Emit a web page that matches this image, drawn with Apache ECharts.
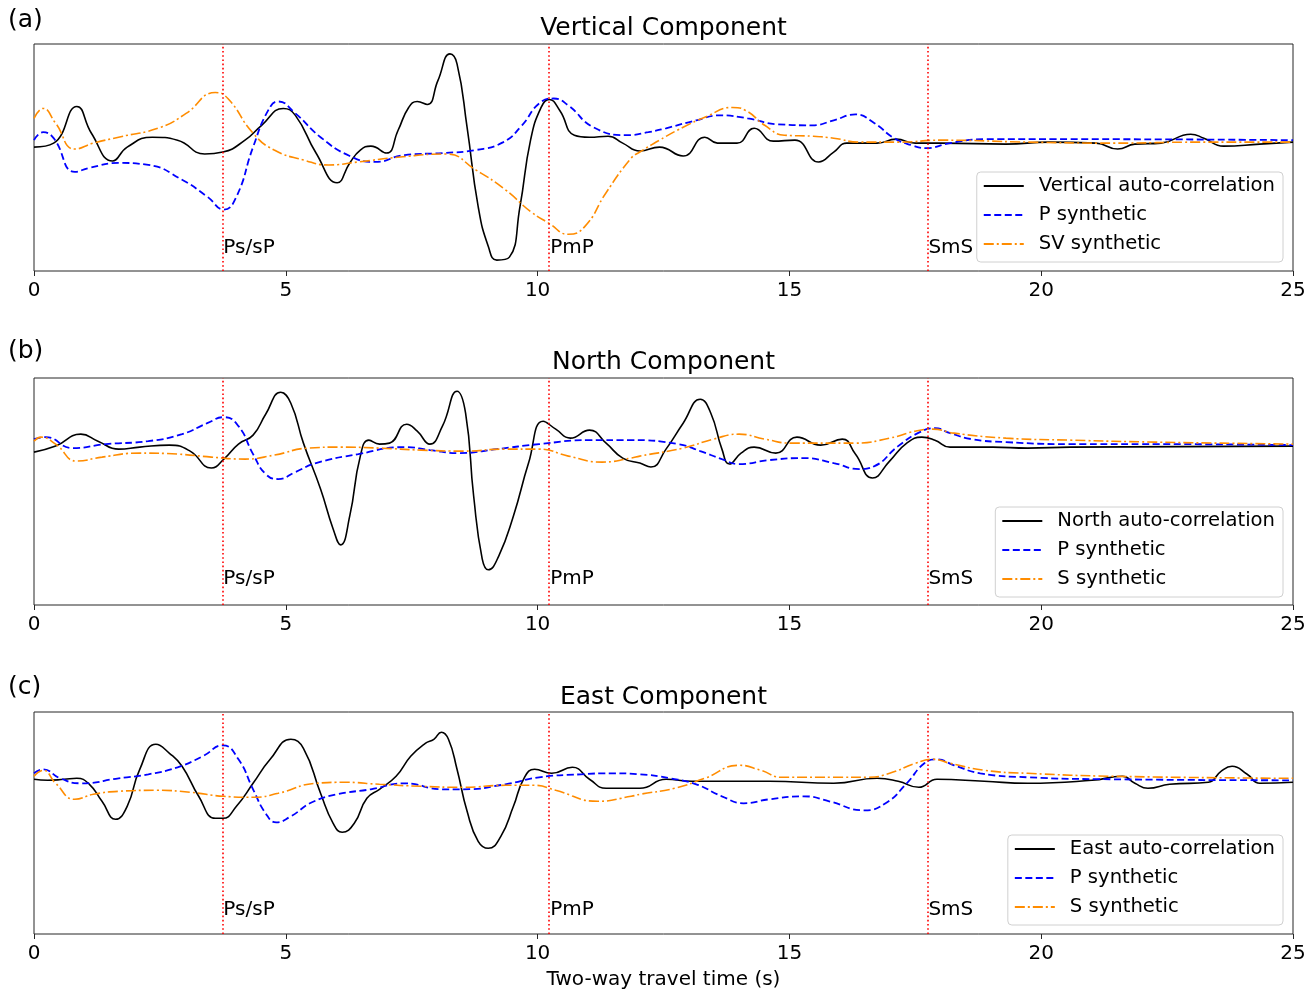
<!DOCTYPE html>
<html>
<head>
<meta charset="utf-8">
<script src="https://cdn.jsdelivr.net/npm/echarts@6/dist/echarts.min.js"></script>
<style>
  html, body { margin: 0; padding: 0; background: #fff; }
  #chart { width: 1316px; height: 995px; }
</style>
</head>
<body>
<div id="chart"></div>
<script>
// Two-way travel time (s) vs normalised amplitude, [t, amplitude] pairs.

// Vertical component
const vertAuto = [[0,-0.05],[0.39,-0.01],[0.85,0.36],[1.14,0.09],[1.56,-0.19],[1.85,-0.05],[2.35,0.05],[2.85,0.02],[3.39,-0.12],[3.75,-0.10],[4.19,0.02],[4.52,0.17],[4.95,0.34],[5.19,0.27],[5.6,-0.11],[6.02,-0.41],[6.27,-0.21],[6.48,-0.08],[6.69,-0.04],[7.0,-0.11],[7.23,0.12],[7.44,0.35],[7.61,0.41],[7.81,0.38],[8.02,0.62],[8.26,0.89],[8.4,0.79],[8.6,0.15],[8.82,-0.65],[9.02,-1.05],[9.19,-1.19],[9.44,-1.16],[9.65,-0.65],[9.86,0.02],[10.07,0.35],[10.23,0.43],[10.44,0.32],[10.73,0.07],[11.03,0.05],[11.4,0.06],[11.69,-0.01],[12.03,-0.09],[12.42,-0.05],[12.89,-0.14],[13.32,0.05],[13.57,-0.01],[13.96,-0.01],[14.3,0.14],[14.68,0.01],[15.11,0.02],[15.58,-0.20],[15.88,-0.10],[16.14,-0.01],[16.74,-0.01],[17.12,0.03],[17.5,-0.01],[18.02,-0.01],[19.3,-0.02],[20.15,0.0],[21.09,-0.01],[21.52,-0.07],[21.86,-0.02],[22.38,-0.01],[22.97,0.08],[23.23,0.04],[23.62,-0.04],[24.34,-0.02],[25,0.0]];
const vertP = [[0,0.02],[0.18,0.10],[0.39,0.04],[0.81,-0.30],[1.1,-0.26],[1.68,-0.21],[2.27,-0.23],[2.94,-0.38],[3.44,-0.55],[3.77,-0.68],[4.02,-0.55],[4.35,-0.05],[4.65,0.32],[4.85,0.41],[5.19,0.29],[5.69,0.05],[6.27,-0.14],[6.77,-0.20],[7.36,-0.13],[8.11,-0.11],[8.77,-0.08],[9.32,0.0],[9.69,0.17],[10.03,0.39],[10.32,0.44],[10.61,0.37],[11.11,0.15],[11.78,0.07],[12.2,0.10],[12.55,0.14],[13.15,0.22],[13.62,0.27],[14.17,0.24],[14.77,0.18],[15.45,0.17],[15.88,0.22],[16.31,0.28],[16.69,0.19],[17.08,0.04],[17.42,-0.03],[17.72,-0.06],[18.19,-0.01],[18.87,0.03],[20.58,0.03],[25,0.02]];
const vertSV = [[0,0.24],[0.18,0.34],[0.43,0.19],[0.81,-0.07],[1.18,-0.01],[1.68,0.05],[2.52,0.15],[3.02,0.29],[3.6,0.50],[3.85,0.44],[4.35,0.09],[4.77,-0.08],[5.35,-0.18],[5.85,-0.23],[6.44,-0.20],[7.27,-0.15],[8.19,-0.12],[8.77,-0.28],[9.36,-0.48],[9.86,-0.70],[10.23,-0.82],[10.61,-0.93],[10.94,-0.85],[11.36,-0.51],[11.86,-0.16],[12.03,-0.10],[12.42,0.02],[12.89,0.15],[13.32,0.25],[13.87,0.35],[14.13,0.32],[14.51,0.17],[14.9,0.07],[15.45,0.06],[15.88,0.04],[16.39,0.0],[17.16,0.0],[18.02,0.02],[19.73,0.0],[21.44,-0.01],[23.15,0.0],[25,0.0]];

// North component
const northAuto = [[0,-0.06],[0.43,0.0],[0.93,0.12],[1.27,0.05],[1.68,-0.03],[2.1,-0.01],[2.69,0.01],[3.1,-0.05],[3.52,-0.22],[3.77,-0.13],[4.06,0.02],[4.35,0.11],[4.6,0.32],[4.9,0.54],[5.1,0.43],[5.35,0.03],[5.69,-0.43],[5.94,-0.83],[6.09,-0.99],[6.27,-0.70],[6.48,-0.10],[6.65,0.06],[6.86,0.02],[7.06,0.03],[7.4,0.22],[7.61,0.15],[7.86,0.02],[8.11,0.20],[8.4,0.55],[8.57,0.33],[8.73,-0.50],[8.9,-1.13],[9.02,-1.24],[9.23,-1.10],[9.52,-0.70],[9.82,-0.17],[10.11,0.25],[10.36,0.17],[10.65,0.08],[11.03,0.16],[11.36,0.03],[11.69,-0.12],[12.03,-0.17],[12.25,-0.21],[12.55,-0.03],[12.89,0.23],[13.23,0.47],[13.44,0.33],[13.66,-0.03],[13.81,-0.18],[14.04,-0.07],[14.3,-0.01],[14.73,-0.07],[15.15,0.09],[15.62,0.01],[16.05,0.07],[16.31,-0.08],[16.65,-0.32],[16.99,-0.15],[17.33,0.03],[17.63,0.09],[17.89,0.06],[18.19,-0.01],[19.04,-0.01],[19.73,-0.02],[20.58,-0.01],[25,0.0]];
const northP = [[0,0.07],[0.23,0.09],[0.77,-0.02],[1.43,0.02],[2.27,0.05],[2.94,0.12],[3.44,0.23],[3.77,0.29],[4.06,0.20],[4.35,-0.08],[4.6,-0.28],[4.85,-0.33],[5.19,-0.26],[5.6,-0.17],[6.44,-0.08],[7.36,-0.01],[7.86,-0.04],[8.44,-0.07],[9.19,-0.03],[10.03,0.02],[11.03,0.06],[11.86,0.06],[12.8,0.02],[13.23,-0.05],[13.66,-0.13],[14.0,-0.18],[14.6,-0.14],[15.28,-0.12],[15.88,-0.17],[16.39,-0.23],[16.69,-0.20],[17.16,0.0],[17.59,0.14],[17.89,0.18],[18.19,0.13],[18.62,0.07],[19.3,0.04],[20.58,0.02],[22.29,0.02],[25,0.01]];
const northS = [[0,0.05],[0.14,0.09],[0.43,0.02],[0.85,-0.15],[1.35,-0.11],[2.1,-0.07],[2.85,-0.08],[3.52,-0.11],[4.19,-0.13],[4.77,-0.09],[5.44,-0.02],[6.1,-0.01],[6.86,-0.02],[7.69,-0.04],[8.52,-0.05],[9.36,-0.03],[10.03,-0.03],[10.61,-0.10],[11.28,-0.16],[11.86,-0.12],[12.03,-0.10],[12.89,-0.02],[13.49,0.07],[14.0,0.12],[14.51,0.07],[15.03,0.03],[16.31,0.03],[16.99,0.08],[17.5,0.15],[17.85,0.17],[18.27,0.13],[19.3,0.08],[20.58,0.06],[22.29,0.04],[25,0.02]];

// East component
const eastAuto = [[0,0.02],[0.27,0.01],[0.6,0.02],[0.85,0.03],[1.1,-0.03],[1.35,-0.20],[1.62,-0.38],[1.85,-0.25],[2.1,0.12],[2.42,0.37],[2.69,0.28],[2.94,0.15],[3.27,-0.15],[3.6,-0.37],[3.75,-0.37],[4.02,-0.25],[4.35,-0.02],[4.69,0.22],[5.1,0.42],[5.35,0.33],[5.69,-0.12],[5.94,-0.42],[6.12,-0.51],[6.36,-0.42],[6.61,-0.17],[6.86,-0.08],[7.19,0.05],[7.48,0.25],[7.77,0.38],[7.94,0.42],[8.09,0.49],[8.23,0.42],[8.4,0.12],[8.6,-0.30],[8.82,-0.60],[9.02,-0.67],[9.27,-0.55],[9.52,-0.25],[9.73,0.03],[9.94,0.12],[10.28,0.08],[10.69,0.14],[11.03,0.02],[11.36,-0.07],[11.69,-0.07],[12.03,-0.07],[12.55,0.02],[13.06,0.0],[14.6,0.0],[15.88,-0.02],[16.74,0.03],[17.16,0.0],[17.57,-0.06],[17.93,0.02],[18.87,0.0],[19.73,-0.02],[21.01,0.01],[21.61,0.05],[21.86,-0.02],[22.12,-0.07],[22.55,-0.03],[23.32,-0.01],[23.57,0.10],[23.79,0.15],[24.09,0.07],[24.34,-0.02],[25,-0.01]];
const eastP = [[0,0.08],[0.18,0.12],[0.52,0.03],[0.93,-0.02],[1.68,0.03],[2.27,0.07],[2.85,0.14],[3.35,0.25],[3.75,0.36],[4.06,0.22],[4.35,-0.08],[4.6,-0.32],[4.81,-0.41],[5.1,-0.35],[5.52,-0.21],[6.02,-0.13],[6.69,-0.08],[7.36,-0.02],[8.11,-0.08],[8.52,-0.08],[9.36,-0.03],[10.03,0.04],[10.86,0.07],[11.44,0.08],[12.03,0.07],[12.63,0.03],[13.15,-0.03],[13.66,-0.15],[14.09,-0.22],[14.6,-0.18],[15.28,-0.15],[15.79,-0.20],[16.48,-0.29],[16.91,-0.22],[17.33,-0.02],[17.68,0.18],[17.93,0.22],[18.27,0.16],[18.79,0.08],[19.73,0.04],[21.44,0.02],[25,0.01]];
const eastS = [[0,0.05],[0.18,0.11],[0.43,-0.02],[0.81,-0.18],[1.18,-0.13],[1.68,-0.10],[2.44,-0.09],[3.1,-0.11],[3.77,-0.15],[4.35,-0.16],[4.85,-0.12],[5.6,-0.02],[6.19,-0.01],[6.86,-0.03],[7.69,-0.05],[8.52,-0.06],[9.36,-0.04],[9.94,-0.04],[10.36,-0.09],[11.19,-0.20],[11.86,-0.15],[12.03,-0.13],[12.72,-0.07],[13.32,0.03],[14.0,0.16],[14.43,0.11],[14.85,0.04],[15.88,0.04],[16.56,0.04],[16.99,0.08],[17.5,0.18],[17.85,0.22],[18.19,0.18],[18.87,0.11],[19.73,0.08],[21.44,0.05],[25,0.03]];

// Phase arrival times (s) and their labels
const phaseNames = ['Ps/sP', 'PmP', 'SmS'];
const phaseTimes = [3.74, 10.23, 17.74];
// Height (amplitude units) at which phase labels sit in each panel
const phaseLabelLevel = [-1.067, -1.33, -1.28];

const panelTitles = ['Vertical Component', 'North Component', 'East Component'];
const panelLetters = ['(a)', '(b)', '(c)'];
const legendNames = [
  ['Vertical auto-correlation', 'P synthetic', 'SV synthetic'],
  ['North auto-correlation', 'P synthetic', 'S synthetic'],
  ['East auto-correlation', 'P synthetic', 'S synthetic']
];
const xTicks = [0, 5, 10, 15, 20, 25];
const yRanges = [[-1.30, 0.99], [-1.593, 0.683], [-1.527, 0.693]];

const panelData = [
  [vertAuto, vertP, vertSV],
  [northAuto, northP, northS],
  [eastAuto, eastP, eastS]
];

const FONT = 'DejaVu Sans';
const gridTops = [44, 378, 712];
const gridHeights = [227, 227, 222];
const titleTops = [16, 350, 685];
const letterTops = [8, 339, 675];
const legendTops = [172, 507, 835];

const styles = [
  { color: '#000000', width: 1.6, type: 'solid' },
  { color: '#0000ff', width: 1.8, type: [7, 3.5] },
  { color: '#ff8c00', width: 1.6, type: [10, 3, 2, 3] }
];

const grids = [], xAxes = [], yAxes = [], series = [], titles = [], legends = [];

for (let p = 0; p < 3; p++) {
  grids.push({
    left: 34, width: 1259, top: gridTops[p], height: gridHeights[p],
    show: true, borderColor: '#262626', borderWidth: 1, backgroundColor: 'transparent'
  });
  xAxes.push({
    type: 'value', gridIndex: p, position: 'bottom',
    min: xTicks[0], max: xTicks[xTicks.length - 1], interval: 5,
    axisLine: { show: false, onZero: false },
    axisTick: { show: true, length: 5, inside: false, lineStyle: { color: '#262626', width: 1 } },
    axisLabel: { fontFamily: FONT, fontSize: 20, color: '#000', margin: 10 },
    splitLine: { show: false },
    name: p === 2 ? 'Two-way travel time (s)' : '',
    nameLocation: 'middle', nameGap: 36,
    nameTextStyle: { fontFamily: FONT, fontSize: 20, color: '#000' }
  });
  yAxes.push({
    type: 'value', gridIndex: p, min: yRanges[p][0], max: yRanges[p][1],
    show: false, splitLine: { show: false }
  });

  titles.push({
    text: panelTitles[p], left: 663.5, top: titleTops[p], textAlign: 'center', padding: 0,
    textStyle: { fontFamily: FONT, fontSize: 25, fontWeight: 'normal', color: '#000', lineHeight: 25 }
  });
  titles.push({
    text: panelLetters[p], left: 8, top: letterTops[p], padding: 0,
    textStyle: { fontFamily: FONT, fontSize: 25, fontWeight: 'normal', color: '#000', lineHeight: 25 }
  });

  legends.push({
    data: legendNames[p], orient: 'vertical', right: 33, top: legendTops[p],
    itemWidth: 40, itemHeight: 14, itemGap: 9,
    padding: [4, 8, 8, 6],
    backgroundColor: 'rgba(255,255,255,0.85)', borderColor: '#d0d0d0', borderWidth: 1, borderRadius: 4,
    itemStyle: { opacity: 0 },
    textStyle: { fontFamily: FONT, fontSize: 19.6, color: '#000', lineHeight: 20, padding: [0, 0, 0, 10] },
    selectedMode: false
  });

  for (let k = 0; k < 3; k++) {
    const s = {
      type: 'line', name: legendNames[p][k], xAxisIndex: p, yAxisIndex: p,
      data: panelData[p][k], symbol: 'none', showSymbol: false,
      smooth: 0.5, animation: false, z: 3 + (k === 0 ? 0 : 1),
      lineStyle: { color: styles[k].color, width: styles[k].width, type: styles[k].type },
      itemStyle: { color: styles[k].color }
    };
    if (k === 0) {
      s.markLine = {
        silent: true, symbol: 'none', animation: false,
        label: { show: false },
        lineStyle: { color: '#ff0000', width: 1.6, type: [1.6, 2.6] },
        data: phaseTimes.map(t => ({ xAxis: t }))
      };
    }
    series.push(s);
  }

  series.push({
    type: 'scatter', name: 'phases-' + p, xAxisIndex: p, yAxisIndex: p,
    symbolSize: 0, animation: false, silent: true,
    itemStyle: { opacity: 1, color: '#000000' },
    data: phaseTimes.map((t, i) => ({ name: phaseNames[i], value: [t, phaseLabelLevel[p]] })),
    label: {
      show: true, position: 'right', distance: 1, formatter: '{b}',
      fontFamily: FONT, fontSize: 20, color: '#000000', opacity: 1, textBorderWidth: 0
    }
  });
}

const chart = echarts.init(document.getElementById('chart'), null, { renderer: 'canvas' });
chart.setOption({
  backgroundColor: '#ffffff',
  animation: false,
  title: titles,
  legend: legends,
  grid: grids,
  xAxis: xAxes,
  yAxis: yAxes,
  series: series
});
</script>
</body>
</html>
